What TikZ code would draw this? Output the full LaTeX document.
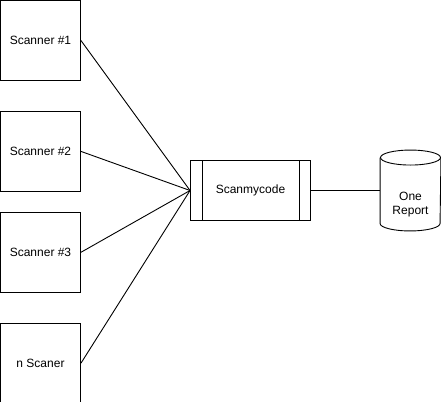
\documentclass[tikz,border=0pt]{standalone}
\usepackage{fontspec}
\setmainfont{Liberation Sans}
\usetikzlibrary{positioning}

\begin{document}
\begin{tikzpicture}[x=1pt,y=-1pt,line width=0.9pt,
        font=\fontsize{12}{13.5}\selectfont,
        scanbox/.style={rectangle,draw,minimum size=80pt,inner sep=0pt},
        procbox/.style={rectangle,draw,minimum width=120pt,minimum height=60pt,inner sep=0pt},
        store/.style={rectangle,minimum width=60pt,minimum height=80pt,inner sep=0pt}]
        \useasboundingbox (-0.5,-0.5) rectangle (440.5,400.5);

        \node[scanbox] (s1) at (40,40) {Scanner \#1};
        \node[scanbox] (s2) [below=30pt of s1] {Scanner \#2};
        \node[scanbox] (s3) [below=20pt of s2] {Scanner \#3};
        \node[scanbox] (sn) [below=30pt of s3] {n Scaner};
        \node[procbox] (scan) at (250,190) {Scanmycode};
        \node[store] (rep) at (410,190) {};
        \node[align=center,inner sep=0pt] (reptext) at ([yshift=-14pt]rep.center) {One\\Report};

        % side bars of the process box
        \draw([xshift=12pt]scan.north west) -- ([xshift=12pt]scan.south west);
        \draw([xshift=-12pt]scan.north east) -- ([xshift=-12pt]scan.south east);

        % cylinder
        \draw([yshift=-7.5pt]rep.north west) -- ([yshift=7.5pt]rep.south west)
            arc[start angle=180,end angle=360,x radius=30pt,y radius=7.5pt]
            -- ([yshift=-7.5pt]rep.north east);
        \draw([yshift=-7.5pt]rep.north) ellipse[x radius=30pt,y radius=7.5pt];

        \draw(s1.east) -- (scan.west);
        \draw(s2.east) -- (scan.west);
        \draw(s3.east) -- (scan.west);
        \draw(sn.east) -- (scan.west);
        \draw(scan.east) -- (rep.west);
    \end{tikzpicture}
\end{document}
